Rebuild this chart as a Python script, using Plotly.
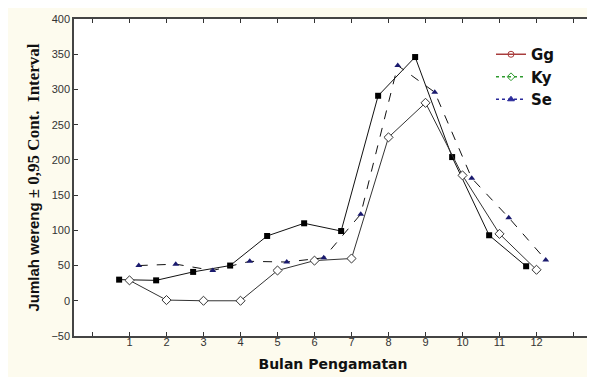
import plotly.graph_objects as go

months = [1, 2, 3, 4, 5, 6, 7, 8, 9, 10, 11, 12]
gg = [30, 29, 41, 50, 92, 110, 99, 291, 346, 204, 93, 49]
ky = [29, 1, 0, 0, 43, 57, 60, 232, 281, 178, 95, 44]
se = [50, 52, 43, 56, 55, 61, 123, 334, 296, 174, 118, 58]
series_names = ["Gg", "Ky", "Se"]
legend_colors = ["#a83c3c", "#2e9a2e", "#2a2a9a"]
x_tickvals = list(range(0, 14))
x_ticktext = [""] + [str(m) for m in months] + [""]
y_tickvals = [-50, 0, 50, 100, 150, 200, 250, 300, 350, 400]

off_gg, off_ky, off_se = -0.28, 0.0, 0.25

fig = go.Figure()
fig.add_trace(go.Scatter(
    x=[m + off_gg for m in months], y=gg, mode="lines+markers",
    line=dict(color="#111111", width=1),
    marker=dict(symbol="square", size=6, color="#000000"),
    showlegend=False))
fig.add_trace(go.Scatter(
    x=[m + off_ky for m in months], y=ky, mode="lines+markers",
    line=dict(color="#333333", width=1),
    marker=dict(symbol="diamond", size=7, color="#ffffff",
                line=dict(color="#333333", width=1)),
    showlegend=False))
fig.add_trace(go.Scatter(
    x=[m + off_se for m in months], y=se, mode="lines+markers",
    line=dict(color="#111111", width=1, dash="dash"),
    marker=dict(symbol="triangle-up", size=6, color="#1a1a6e"),
    showlegend=False))

legend_symbols = ["circle-open", "diamond-open", "triangle-up"]
legend_dash = ["solid", "dot", "dot"]
for name, col, sym, dsh in zip(series_names, legend_colors, legend_symbols, legend_dash):
    fig.add_trace(go.Scatter(
        x=[None], y=[None], mode="lines+markers", name="<b>" + name + "</b>",
        line=dict(color=col, width=1.5, dash=dsh),
        marker=dict(symbol=sym, size=6, color=col, line=dict(color=col, width=1))))

fig.update_layout(
    width=595, height=377,
    margin=dict(l=66, r=11, t=11, b=49, autoexpand=False),
    paper_bgcolor="#fdfbee",
    plot_bgcolor="#ffffff",
    font=dict(family="Liberation Sans, Arial, sans-serif", color="#222222"),
    legend=dict(x=0.805, y=0.94, xanchor="left", yanchor="top",
                bgcolor="rgba(0,0,0,0)", tracegroupgap=0,
                font=dict(size=15, color="#111111", family="DejaVu Sans"),
                itemwidth=30),
    showlegend=True,
)
fig.update_xaxes(
    range=[-0.5, 13.5], tickvals=x_tickvals, ticktext=x_ticktext,
    ticks="inside", ticklen=4, tickcolor="#333333", mirror="ticks",
    showline=True, linecolor="#444444", linewidth=1.5, showgrid=False, zeroline=False,
    tickfont=dict(size=11, color="#333333"), ticklabelstandoff=-5, automargin=False,
    title=dict(text="<b>Bulan Pengamatan</b>",
               font=dict(size=14, color="#111111", family="DejaVu Sans"), standoff=12),
)
fig.update_yaxes(
    range=[-50, 400], tickvals=y_tickvals,
    ticks="inside", ticklen=4, tickcolor="#333333", mirror="ticks",
    showline=True, linecolor="#444444", linewidth=1.5, showgrid=False, zeroline=False,
    tickfont=dict(size=11, color="#333333"), automargin=False,
    title=dict(text="<b><span style=\"font-family:'Liberation Sans'\">Jumlah wereng </span>"
                    "<span style=\"font-family:'Liberation Serif';font-size:17px\">± 0,95 Cont.  Interval</span></b>",
               font=dict(size=15, color="#111111"), standoff=8),
)

fig.write_html("out.html")
